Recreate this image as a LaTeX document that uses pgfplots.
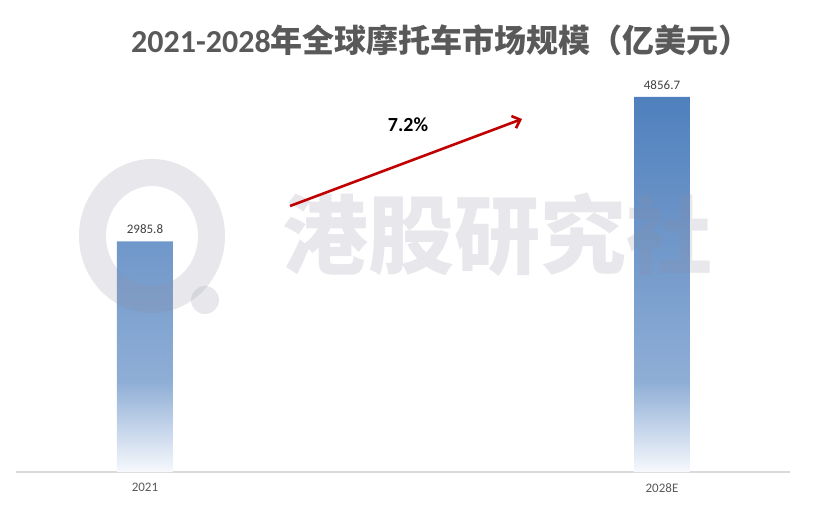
\documentclass[border=0pt]{standalone}
\usepackage{fontspec}
\setmainfont{Carlito}
\newfontfamily\cjk{Noto Sans CJK SC}
\usepackage{pgfplots}
\pgfplotsset{compat=1.18}
\usetikzlibrary{arrows.meta}

\definecolor{bartop}{HTML}{4F80BD}
\definecolor{barfade}{HTML}{8FAED6}
\definecolor{barlow}{HTML}{F7F9FD}
\definecolor{titlegray}{HTML}{595959}
\definecolor{labgray}{HTML}{404040}
\definecolor{axgray}{HTML}{D9D9D9}
\definecolor{wm}{HTML}{8C8CA0}
\definecolor{arrowred}{HTML}{C00000}

\pgfdeclareverticalshading{barshade}{100bp}{color(0bp)=(barlow); color(25bp)=(barlow); color(37bp)=(barfade); color(75bp)=(bartop); color(100bp)=(bartop)}

\begin{document}
\begin{tikzpicture}[x=1pt,y=1pt]
\path[use as bounding box] (-16,-39) rectangle (805,472);
\begin{axis}[
  at={(0,0)}, anchor=south west,
  scale only axis, width=774pt, height=410pt,
  xmin=-0.2495, xmax=1.2476, ymin=0, ymax=5310,
  axis y line=none,
  axis x line*=bottom,
  x axis line style={axgray, line width=1.3pt, -},
  xtick={0,1}, xticklabels={2021,2028E},
  major tick length=0pt,
  xticklabel style={font=\fontsize{13}{13}\selectfont, text=titlegray, yshift=-8pt},
  clip=false,
]
\addplot[ybar, bar width=56pt, draw=none, shade, shading=barshade,
  nodes near coords, point meta=explicit symbolic,
  every node near coord/.append style={font=\fontsize{13}{13}\selectfont, text=labgray, anchor=south, yshift=4pt}]
  table[meta=lab] {
  x y lab
  0 2985.8 2985.8
  1 4856.7 4856.7
};
\end{axis}
% watermark
\begin{scope}[opacity=0.2]
\fill[wm, even odd rule] (136,236) ellipse (73 and 77) (136,236) ellipse (46 and 50);
\fill[wm] (189,172) circle (14);
\node[text=wm, font=\cjk\bfseries\fontsize{86}{86}\selectfont, inner sep=0] at (481,237) {港股研究社};
\end{scope}
% growth arrow
\draw[arrowred, line width=2.6pt, -{Straight Barb[length=7pt, width=13pt]}] (274,266) -- (506,353);
\node[font=\bfseries\fontsize{20}{20}\selectfont, text=black] at (392,347) {7.2\%};
% title
\node[font=\bfseries\fontsize{32}{32}\selectfont, text=titlegray] at (425,432) {2021-2028{\cjk 年全球摩托车市场规模（亿美元）}};
\end{tikzpicture}
\end{document}
